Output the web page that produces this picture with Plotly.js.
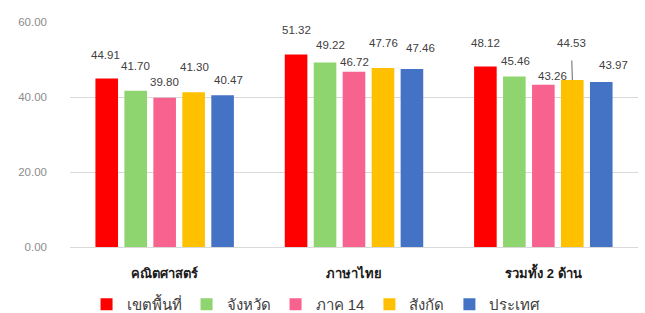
<!DOCTYPE html>
<html>
<head>
<meta charset="utf-8">
<script src="https://cdn.plot.ly/plotly-3.0.1.min.js"></script>
<style>html,body{margin:0;padding:0;background:#fff;}#chart{width:645px;height:313px;}</style>
</head>
<body>
<div id="chart"></div>
<script>
// ---- data ----
const categories = ['คณิตศาสตร์', 'ภาษาไทย', 'รวมทั้ง 2 ด้าน'];
const seriesNames = ['เขตพื้นที่', 'จังหวัด', 'ภาค 14', 'สังกัด', 'ประเทศ'];
const areaValues = [44.91, 51.32, 48.12];
const provinceValues = [41.70, 49.22, 45.46];
const region14Values = [39.80, 46.72, 43.26];
const affiliationValues = [41.30, 47.76, 44.53];
const countryValues = [40.47, 47.46, 43.97];
const yTickValues = [0, 20, 40, 60];

// ---- styles ----
const seriesValues = [areaValues, provinceValues, region14Values, affiliationValues, countryValues];
const colors = ['#FF0000', '#8ED46F', '#F7628F', '#FFC000', '#4472C4'];
// label offsets in pixels [dx, dy] relative to bar top centre (manually placed labels)
const labelShift = [
  [[-1, -24], [0, -24.5], [0, -23.5]],
  [[0, -24.5], [5, -17], [1.5, -15.5]],
  [[0, -16], [0, -10], [9, -9]],
  [[0.5, -25], [0, -25], [-1, -37]],
  [[5.5, -15], [8, -21], [12, -17]]
];
const slotPx = 29;

const textFont = {family: 'Liberation Sans, Arial, sans-serif', size: 11.5, color: '#404040'};

const traces = seriesNames.map((name, i) => ({
  type: 'bar',
  name: name,
  x: categories,
  y: seriesValues[i],
  marker: {color: colors[i]},
  hoverinfo: 'none'
}));

const annotations = [];
seriesValues.forEach((vals, i) => {
  vals.forEach((v, j) => {
    const [dx, dy] = labelShift[i][j];
    const leader = (i === 3 && j === 2);
    if (leader) {
      annotations.push({
        x: categories[j], y: v, xref: 'x', yref: 'y',
        text: v.toFixed(2), font: textFont,
        showarrow: true, arrowhead: 0, arrowwidth: 0.8, arrowcolor: '#404040',
        ax: dx, ay: dy, axref: 'pixel', ayref: 'pixel',
        xshift: (i - 2) * slotPx, standoff: 0, startstandoff: 10
      });
    } else {
      annotations.push({
        x: categories[j], y: v, xref: 'x', yref: 'y',
        text: v.toFixed(2), font: textFont, showarrow: false,
        xanchor: 'center', yanchor: 'middle',
        xshift: (i - 2) * slotPx + dx, yshift: -dy
      });
    }
  });
});

const layout = {
  width: 645, height: 313,
  margin: {l: 70, r: 7, t: 22, b: 66},
  paper_bgcolor: '#ffffff', plot_bgcolor: '#ffffff',
  font: {family: 'Liberation Sans, Arial, sans-serif', color: '#404040'},
  barmode: 'group',
  bargap: 0.235,
  bargroupgap: 0.22,
  showlegend: true,
  legend: {
    orientation: 'h', xref: 'container', yref: 'container',
    x: 0.49, xanchor: 'center', y: 0.027, yanchor: 'middle',
    font: {size: 15, color: '#404040'},
    itemwidth: 30, tracegroupgap: 0
  },
  xaxis: {
    type: 'category',
    showgrid: false, zeroline: false, showline: false, ticks: '',
    tickfont: {size: 13, color: '#1a1a1a', weight: 'bold'},
    ticklabelstandoff: 17
  },
  yaxis: {
    range: [0, 60],
    tickvals: yTickValues,
    ticktext: yTickValues.map(v => v.toFixed(2)),
    tickfont: {size: 11.5, color: '#8c8c8c'},
    showgrid: true, gridcolor: '#d9d9d9', gridwidth: 1,
    zeroline: true, zerolinecolor: '#d9d9d9', zerolinewidth: 1,
    showline: false, ticks: '',
    ticklabelstandoff: 22
  },
  annotations: annotations
};

Plotly.newPlot('chart', traces, layout, {displayModeBar: false, staticPlot: true});
</script>
</body>
</html>
